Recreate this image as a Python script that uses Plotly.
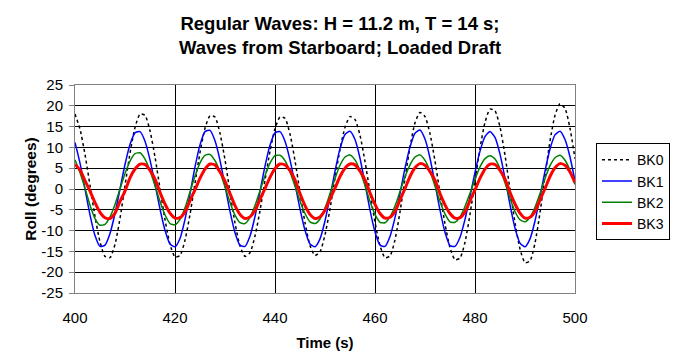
import plotly.graph_objects as go

time_s = [400, 401, 402, 403, 404, 405, 406, 407, 408, 409,
          410, 411, 412, 413, 414, 415, 416, 417, 418, 419,
          420, 421, 422, 423, 424, 425, 426, 427, 428, 429,
          430, 431, 432, 433, 434, 435, 436, 437, 438, 439,
          440, 441, 442, 443, 444, 445, 446, 447, 448, 449,
          450, 451, 452, 453, 454, 455, 456, 457, 458, 459,
          460, 461, 462, 463, 464, 465, 466, 467, 468, 469,
          470, 471, 472, 473, 474, 475, 476, 477, 478, 479,
          480, 481, 482, 483, 484, 485, 486, 487, 488, 489,
          490, 491, 492, 493, 494, 495, 496, 497, 498, 499, 500]

bk0 = [18.0, 14.4, 8.3, 0.9, -6.6, -12.7, -16.2, -16.5, -13.3, -7.1,
       0.8, 8.6, 14.8, 18.0, 17.7, 14.0, 7.7, 0.1, -7.4, -13.3,
       -16.3, -16.0, -12.3, -6.1, 1.4, 8.8, 14.6, 17.6, 17.3, 13.4,
       7.0, -0.8, -8.2, -13.7, -16.2, -15.3, -11.3, -5.2, 2.1, 9.1,
       14.5, 17.3, 17.0, 13.2, 6.8, -0.8, -8.1, -13.6, -16.0, -15.1,
       -11.0, -4.8, 2.6, 9.5, 14.8, 17.4, 16.7, 12.9, 6.6, -0.8,
       -8.0, -13.6, -16.5, -16.1, -12.2, -5.5, 2.5, 10.1, 15.9, 18.4,
       17.4, 13.3, 6.7, -1.0, -8.4, -14.1, -17.0, -16.6, -12.8, -6.1,
       1.9, 9.8, 16.0, 19.2, 18.8, 14.9, 8.1, -0.1, -8.1, -14.4,
       -17.7, -17.3, -13.0, -5.7, 3.1, 11.5, 17.7, 20.5, 19.4, 14.6, 7.3]

bk1 = [11.2, 6.2, 0.0, -6.2, -11.2, -13.8, -13.5, -10.7, -5.9, 0.0,
       5.9, 10.7, 13.5, 13.8, 11.5, 7.0, 1.2, -4.8, -9.9, -13.2,
       -13.9, -11.9, -7.3, -1.2, 5.3, 10.6, 13.8, 14.1, 11.6, 6.9,
       0.8, -5.4, -10.5, -13.5, -13.8, -11.3, -6.6, -0.6, 5.5, 10.5,
       13.5, 13.8, 11.5, 7.0, 1.2, -4.8, -9.9, -13.2, -13.9, -12.0,
       -7.7, -1.9, 4.3, 9.7, 13.1, 13.9, 11.9, 7.4, 1.3, -5.1,
       -10.3, -13.5, -13.8, -11.4, -6.9, -1.1, 5.0, 10.1, 13.4, 14.2,
       12.0, 7.4, 1.3, -5.1, -10.4, -13.6, -13.8, -11.6, -7.3, -1.8,
       4.0, 9.1, 12.6, 13.8, 12.4, 8.4, 2.6, -3.8, -9.4, -13.0,
       -13.9, -12.0, -7.7, -1.9, 4.3, 9.6, 13.0, 13.9, 11.9, 7.7, 1.9]

bk2 = [7.0, 3.9, 0.2, -3.9, -7.1, -8.7, -8.5, -6.7, -3.7, 0.0,
       3.7, 6.7, 8.5, 8.7, 7.2, 4.4, 0.8, -3.0, -6.2, -8.3,
       -8.6, -7.3, -4.5, -0.7, 3.1, 6.3, 8.1, 8.3, 6.8, 4.1,
       0.5, -3.2, -6.3, -8.1, -8.3, -6.8, -4.0, -0.4, 3.2, 6.2,
       8.0, 8.1, 6.8, 4.1, 0.7, -2.9, -5.9, -7.9, -8.3, -7.2,
       -4.6, -1.1, 2.5, 5.7, 7.7, 8.2, 7.0, 4.4, 0.8, -3.0,
       -6.1, -8.0, -8.1, -6.7, -4.1, -0.6, 2.9, 5.8, 7.7, 8.2,
       6.9, 4.3, 0.7, -3.0, -6.0, -7.9, -8.0, -6.7, -4.2, -1.0,
       2.3, 5.3, 7.3, 8.0, 7.2, 4.9, 1.5, -2.2, -5.4, -7.4,
       -7.9, -6.8, -4.4, -1.1, 2.5, 5.6, 7.5, 8.1, 6.9, 4.5, 1.1]

bk3 = [5.9, 4.6, 2.0, -0.5, -3.3, -5.6, -6.9, -7.1, -5.8, -3.0,
       -0.5, 2.7, 4.8, 6.0, 5.9, 4.5, 2.4, -0.8, -3.6, -5.8,
       -7.0, -6.9, -5.5, -2.8, -0.2, 2.6, 4.8, 6.0, 5.8, 4.1,
       1.9, -1.1, -4.0, -6.1, -7.1, -6.7, -5.2, -2.5, 0.1, 2.8,
       4.9, 6.0, 5.8, 4.4, 2.2, -1.1, -4.0, -6.1, -7.1, -6.7,
       -5.1, -2.4, 0.2, 3.0, 5.0, 6.0, 5.8, 4.3, 2.2, -0.9,
       -3.7, -5.9, -7.0, -6.8, -5.4, -2.6, 0.1, 3.0, 5.1, 6.1,
       5.7, 4.2, 2.1, -1.1, -3.8, -5.9, -7.0, -6.9, -5.5, -2.8,
       -0.2, 2.6, 4.8, 6.0, 5.9, 4.5, 2.4, -0.8, -3.6, -5.8,
       -7.0, -6.8, -5.4, -2.6, 0.1, 3.0, 5.1, 6.1, 5.7, 4.1, 1.5]

series_names = ["BK0", "BK1", "BK2", "BK3"]
x_ticks = [400, 420, 440, 460, 480, 500]
y_ticks = [-25, -20, -15, -10, -5, 0, 5, 10, 15, 20, 25]

FONT = "Liberation Sans, Arial, sans-serif"

styles = [
    dict(color="black", width=1.5, dash="3px,3px"),
    dict(color="#0000FF", width=1.5),
    dict(color="#008000", width=1.5),
    dict(color="#FF0000", width=3),
]

fig = go.Figure()
for name, vals, st in zip(series_names, [bk0, bk1, bk2, bk3], styles):
    fig.add_trace(go.Scatter(
        x=time_s, y=vals, mode="lines", name=name,
        line=dict(shape="spline", smoothing=0.6, **st),
    ))

fig.update_layout(
    width=678, height=354,
    margin=dict(l=75, r=103, t=85, b=61, autoexpand=False),
    paper_bgcolor="white", plot_bgcolor="white",
    font=dict(family=FONT, size=15, color="black"),
    title=dict(
        text="<b>Regular Waves: H = 11.2 m, T = 14 s;<br>Waves from Starboard; Loaded Draft</b>",
        x=0.53, xanchor="center", xref="paper",
        y=0.915, yanchor="middle", yref="container",
        font=dict(family=FONT, size=18.5, color="black"),
    ),
    legend=dict(
        x=1.042, xanchor="left", y=0.72, yanchor="top",
        bordercolor="black", borderwidth=1, bgcolor="white",
        font=dict(family=FONT, size=14, color="black"),
        tracegroupgap=0, itemwidth=30,
    ),
    showlegend=True,
)

fig.update_xaxes(
    range=[400, 500], tickvals=x_ticks, ticktext=[str(v) for v in x_ticks],
    showgrid=True, gridcolor="black", gridwidth=1,
    showline=True, linecolor="#808080", linewidth=1, mirror=True,
    zeroline=False, ticks="", ticklabelstandoff=11, automargin=False,
    title=dict(text="<b>Time (s)</b>", font=dict(family=FONT, size=15), standoff=12),
)
fig.update_yaxes(
    range=[-25, 25], tickvals=y_ticks, ticktext=[str(v) for v in y_ticks],
    showgrid=True, gridcolor="black", gridwidth=1,
    showline=True, linecolor="#808080", linewidth=1, mirror=True,
    zeroline=False, ticks="outside", ticklen=5, tickcolor="#808080",
    ticklabelstandoff=3, automargin=False,
    title=dict(text="<b>Roll (degrees)</b>", font=dict(family=FONT, size=15.5), standoff=0),
)

fig.write_html("out.html")
